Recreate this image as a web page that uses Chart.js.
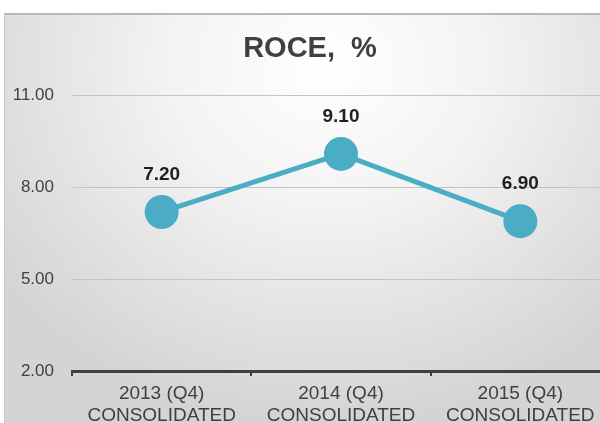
<!DOCTYPE html>
<html>
<head>
<meta charset="utf-8">
<script src="https://cdn.jsdelivr.net/npm/chart.js@4"></script>
<style>
  html, body { margin: 0; padding: 0; width: 600px; height: 423px; overflow: hidden; background: #ffffff; }
  #panel {
    position: absolute; left: 4px; top: 13px; width: 620px; height: 420px;
    border-top: 2px solid #b9b9b9; border-left: 1px solid #c6c6c6;
    background: radial-gradient(ellipse 65% 85% at 52% 12%, #ffffff 0%, #f3f3f3 40%, #d4d4d4 100%);
  }
  #roceChart { position: absolute; left: 0; top: 0; }
</style>
</head>
<body>
<div id="panel"></div>
<canvas id="roceChart" width="615" height="423"></canvas>
<script>
const categories = [
    ['2013 (Q4)', 'CONSOLIDATED'],
    ['2014 (Q4)', 'CONSOLIDATED'],
    ['2015 (Q4)', 'CONSOLIDATED']
];
const roceValues = [7.20, 9.10, 6.90];
const yTicks = [2, 5, 8, 11];

// draw the value above each point
const valueLabels = {
    id: 'valueLabels',
    afterDatasetsDraw(chart) {
        const ctx = chart.ctx;
        const meta = chart.getDatasetMeta(0);
        ctx.save();
        ctx.font = 'bold 19px "Liberation Sans", Arial, sans-serif';
        ctx.fillStyle = '#1f1f1f';
        ctx.textAlign = 'center';
        ctx.textBaseline = 'middle';
        meta.data.forEach((pt, i) => {
            ctx.fillText(roceValues[i].toFixed(2), pt.x, pt.y - 37);
        });
        ctx.restore();
    }
};

const ctx = document.getElementById('roceChart').getContext('2d');
new Chart(ctx, {
    type: 'line',
    data: {
        labels: categories,
        datasets: [{
            label: 'ROCE, %',
            data: roceValues,
            borderColor: '#4BACC6',
            backgroundColor: '#4BACC6',
            borderWidth: 5,
            pointRadius: 17,
            pointHoverRadius: 17,
            pointBorderWidth: 0,
            fill: false,
            tension: 0
        }]
    },
    options: {
        responsive: false,
        animation: false,
        layout: {
            autoPadding: false,
            padding: { left: 10, right: 5, top: 0, bottom: 0 }
        },
        scales: {
            x: {
                offset: true,
                afterFit(axis) {
                    axis.height = 52;
                    axis.paddingLeft = 0;
                    axis.paddingRight = 0;
                },
                grid: {
                    offset: true,
                    drawOnChartArea: false,
                    color: '#404040',
                    lineWidth: 2,
                    tickLength: 5
                },
                border: { display: true, color: '#404040', width: 3 },
                ticks: {
                    color: '#404040',
                    padding: 7,
                    font: { family: '"Liberation Sans", Arial, sans-serif', size: 19, lineHeight: 1.14 },
                    maxRotation: 0
                }
            },
            y: {
                min: 2,
                max: 11,
                afterFit(axis) { axis.width = 62; },
                afterBuildTicks(axis) {
                    axis.ticks = yTicks.map(v => ({ value: v }));
                },
                grid: { color: '#c4c4c4', lineWidth: 1, drawTicks: false },
                border: { display: false },
                ticks: {
                    color: '#404040',
                    padding: 18,
                    font: { family: '"Liberation Sans", Arial, sans-serif', size: 17 },
                    callback: function(value) {
                        return Number(value).toFixed(2);
                    }
                }
            }
        },
        plugins: {
            legend: { display: false },
            tooltip: { enabled: false },
            title: {
                display: true,
                text: 'ROCE,  %',
                color: '#404040',
                font: { family: '"Liberation Sans", Arial, sans-serif', size: 29, weight: 'bold', lineHeight: 1.2 },
                padding: { top: 32, bottom: 29 }
            }
        }
    },
    plugins: [valueLabels]
});
</script>
</body>
</html>
